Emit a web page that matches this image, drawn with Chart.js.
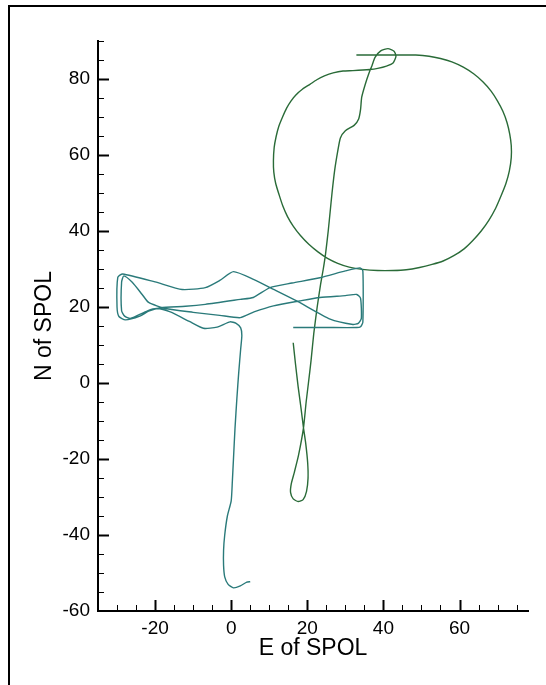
<!DOCTYPE html>
<html>
<head>
<meta charset="utf-8">
<script src="https://cdn.jsdelivr.net/npm/chart.js@4.4.1/dist/chart.umd.min.js"></script>
<style>
  html, body { margin: 0; padding: 0; background: #fff; overflow: hidden; }
  #frame { position: absolute; left: 8px; top: 5px; width: 600px; height: 700px;
           border-left: 2px solid #000; border-top: 2px solid #000; }
  #wrap { position: absolute; left: 0; top: 0; width: 546px; height: 685px; }
</style>
</head>
<body>
<div id="frame"></div>
<div id="wrap"><canvas id="c"></canvas></div>
<script>
// Axis settings
const xRange = [-35, 78];
const yRange = [-60, 90];
const xTickValues = [-20, 0, 20, 40, 60];
const yTickValues = [-60, -40, -20, 0, 20, 40, 60, 80];
const xTitle = 'E of SPOL';
const yTitle = 'N of SPOL';

// Track part 1 (teal): E and N of SPOL
const trackA_E = [5, 4.1, 2.4, 0.6, -0.8, -1.7, -2, -2, -1.7, -1, 0, 0.3, 0.6, 1, 1.5, 2, 2.5, 2.8, 2.5, 1.3, -0.3,
  -3.7, -7.3, -11, -16, -19.5, -22, -26.5, -28, -28.8, -28.8, -28.2, -26, -23.4, -21.7, -17.3, -10, -3, 2.4, 6, 11.1,
  18, 23.3, 30, 33, 34, 34.2, 33.4, 32, 26, 17.2, 10.2, 6, 0.6, -3, -6.8, -12.9, -20, -28.5, -29.8, -30, -29.5, -27.8,
  -24, -21.7, -18.6, -12, -6.8, 2.4, 5.8, 10.2, 16, 23.3, 30, 33.8, 34.6, 34.6, 34, 33, 25, 16.3];
const trackA_N = [-52.3, -52.4, -53.4, -53.9, -53, -51, -48, -44, -40, -35, -31, -26, -20, -12, -4, 3, 9, 12.5, 14.5, 15.7, 16.1,
  14.7, 14.4, 16.2, 18.7, 19.6, 19, 17, 17.6, 19, 26.5, 28.2, 26.5, 23.3, 21.2, 19.6, 18.6, 17.8, 17.2, 18.7, 20.3,
  21.6, 22.5, 23, 23.3, 22.3, 17, 15.7, 15.4, 16.8, 21.6, 25.1, 27.2, 29.3, 27, 25.1, 24.6, 26.6, 28.7, 27.8, 20, 17.5, 16.6,
  17.6, 18.9, 19.8, 20.2, 20.7, 22, 22.5, 25.1, 26.3, 27.7, 29.5, 30.3, 29.5, 16, 14.8, 14.6, 14.6, 14.6];

// Track part 2 (green): E and N of SPOL
const trackB_E = [16.3, 16.9, 17.6, 18.4, 19, 19.6, 20.1, 20.2, 19.8, 18.9, 17.6, 16.3, 15.6, 15.8, 16.6, 17.7, 19, 19.7,
  20.3, 21, 21.7, 22.6, 23.5, 24.2, 24.8, 25.5, 26, 26.5, 27.2, 28, 28.7, 30, 32.3, 33.5, 34, 34.3, 35.2, 36.2, 37, 37.8,
  39.3, 41.2, 42.8, 43.3, 42.6, 40.8, 38.5, 36.4, 32, 29.4, 26.8, 24.5, 22.5, 20.7, 18.7, 17, 15.7, 14.6, 13.5, 12.5,
  11.8, 11.3, 11.1, 11.2, 11.7, 12.6, 13.6, 14.8, 16.3, 18.2, 20.4, 22.8, 25.3, 28, 31, 34.5, 38.5, 42.6, 46, 49.5,
  52.8, 55.7, 58.5, 61.2, 63.5, 65.7, 67.7, 69.5, 70.9, 72.2, 73.1, 73.6, 73.6, 73.2, 72.5, 71.4, 70, 68.3, 66.2, 63.8,
  61, 58, 55, 52, 48.5, 45, 42.6, 37, 32.9];
const trackB_N = [10.6, 5, -1, -7, -11.8, -16, -21, -25, -28.5, -30.7, -31.2, -30.5, -28.8, -26.5, -23.5, -19, -11.8, -5,
  0, 6, 13, 20, 26, 30, 34, 40, 45, 50, 56, 61, 64.5, 66.4, 67.8, 69.5, 72, 75.2, 78.5, 81.5, 83.5, 85.7,
  87.4, 88, 87.3, 86, 84.3, 83.4, 82.8, 82.5, 82.2, 82.1, 81.6, 80.8, 79.8, 78.6, 77.3, 75.8, 74.2, 72.4, 70, 67.5,
  64.8, 62, 58.5, 55.5, 52.5, 49.5, 46.5, 43.8, 41.3, 38.8, 36.5, 34.5, 32.8, 31.5, 30.5, 29.9, 29.6, 29.6, 29.8, 30.4,
  31.2, 32.1, 33.5, 35.3, 37.5, 40, 42.8, 46, 49.2, 52.5, 55.8, 59.3, 62.5, 65.5, 68.5, 71.5, 74.2, 76.8, 79.2, 81.3,
  83.1, 84.5, 85.4, 86, 86.3, 86.3, 86.3, 86.3, 86.3];

const toPoints = (es, ns) => es.map((e, i) => ({ x: e, y: ns[i] }));

const FONT = "'Liberation Sans', Arial, Helvetica, sans-serif";

const inwardTicks = {
  id: 'inwardTicks',
  afterDatasetsDraw(chart) {
    const { ctx, chartArea, scales } = chart;
    const xs = scales.x, ys = scales.y;
    ctx.save();
    ctx.strokeStyle = '#000';
    for (let v = Math.ceil(xs.min / 5) * 5; v <= xs.max; v += 5) {
      if (v === xs.min) continue;
      const major = v % 20 === 0;
      const px = Math.round(xs.getPixelForValue(v)) + 0.5;
      ctx.lineWidth = major ? 2 : 1;
      ctx.beginPath();
      ctx.moveTo(px, chartArea.bottom);
      ctx.lineTo(px, chartArea.bottom - (major ? 11 : 6));
      ctx.stroke();
    }
    for (let v = Math.ceil(ys.min / 5) * 5; v <= ys.max; v += 5) {
      if (v === ys.min) continue;
      const major = v % 20 === 0;
      const py = Math.round(ys.getPixelForValue(v)) + 0.5;
      ctx.lineWidth = major ? 2 : 1;
      ctx.beginPath();
      ctx.moveTo(chartArea.left, py);
      ctx.lineTo(chartArea.left + (major ? 11 : 6), py);
      ctx.stroke();
    }
    ctx.restore();
  }
};

new Chart(document.getElementById('c'), {
  type: 'scatter',
  data: {
    datasets: [
      { data: toPoints(trackA_E, trackA_N), showLine: true, borderColor: '#2a7a7a',
        borderWidth: 1.4, pointRadius: 0, tension: 0.2, fill: false },
      { data: toPoints(trackB_E, trackB_N), showLine: true, borderColor: '#2a6b38',
        borderWidth: 1.4, pointRadius: 0, tension: 0.2, fill: false }
    ]
  },
  options: {
    responsive: true,
    maintainAspectRatio: false,
    animation: false,
    layout: { padding: { left: 10, right: 18, top: 41, bottom: 0 } },
    plugins: { legend: { display: false }, tooltip: { enabled: false } },
    scales: {
      x: {
        type: 'linear', position: 'bottom', min: xRange[0], max: xRange[1],
        afterBuildTicks: (s) => { s.ticks = xTickValues.map(v => ({ value: v })); },
        afterFit: (s) => { s.height = 74; },
        grid: { display: false, drawTicks: false },
        border: { display: true, color: '#000', width: 2 },
        ticks: { color: '#000', padding: 6, maxRotation: 0, font: { family: FONT, size: 19 } },
        title: { display: true, text: xTitle, color: '#000', padding: { top: 0, bottom: 23 },
                 font: { family: FONT, size: 23 } }
      },
      y: {
        type: 'linear', position: 'left', min: yRange[0], max: yRange[1],
        afterBuildTicks: (s) => { s.ticks = yTickValues.map(v => ({ value: v })); },
        afterFit: (s) => { s.width = 88; },
        grid: { display: false, drawTicks: false },
        border: { display: true, color: '#000', width: 2 },
        ticks: { color: '#000', padding: 8, font: { family: FONT, size: 19 } },
        title: { display: true, text: yTitle, color: '#000', padding: { top: 21, bottom: 0 },
                 font: { family: FONT, size: 23 } }
      }
    }
  },
  plugins: [inwardTicks]
});
</script>
</body>
</html>
